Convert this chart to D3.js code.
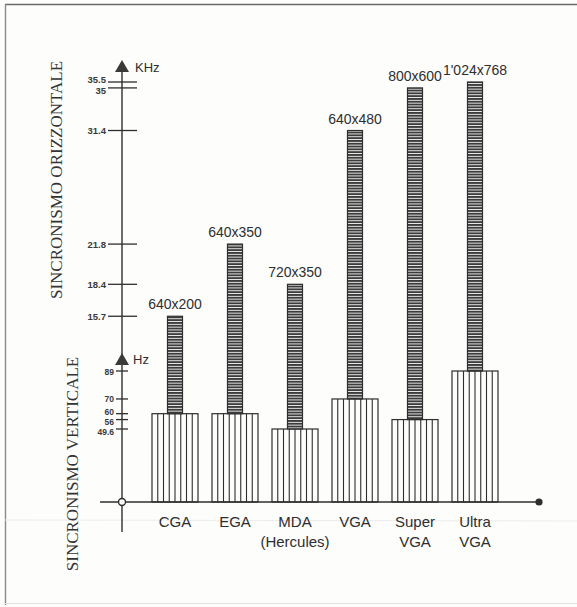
<!DOCTYPE html>
<html>
<head>
<meta charset="utf-8">
<script src="https://cdn.jsdelivr.net/npm/d3@7"></script>
<style>
  body { margin: 0; background: #fdfdfb; }
  svg { display: block; }
</style>
</head>
<body>
<div id="my_dataviz"></div>
<script>

var width = 577,
    height = 607

var categories = ["CGA", "EGA", "MDA", "VGA", "Super VGA", "Ultra VGA"]
var catLines = [["CGA"], ["EGA"], ["MDA", "(Hercules)"], ["VGA"], ["Super", "VGA"], ["Ultra", "VGA"]]
var resolutions = ["640x200", "640x350", "720x350", "640x480", "800x600", "1'024x768"]
var vertHz = [60, 60, 49.6, 70, 56, 89]
var horizKHz = [15.7, 21.8, 18.4, 31.4, 35, 35.5]
var khzTicks = [35.5, 35, 31.4, 21.8, 18.4, 15.7]
var hzTicks = [89, 70, 60, 56, 49.6]
var hzTickLabels = ["89", "70", "60", "56", "49.6"]

var ink = "#2e2e2e"
var axisX = 122, baseY = 502

var svg = d3.select("#my_dataviz")
  .append("svg")
    .attr("width", width)
    .attr("height", height)

svg.append("rect")
  .attr("width", width).attr("height", height)
  .attr("fill", "#fdfdfb")

// frame of the scanned page
svg.append("line").attr("x1", 5).attr("x2", 577).attr("y1", 4.5).attr("y2", 4.5)
  .attr("stroke", "#6a6a6a").attr("stroke-width", 1.6)
svg.append("line").attr("x1", 5.5).attr("x2", 5.5).attr("y1", 4).attr("y2", 605)
  .attr("stroke", "#8a8a8a").attr("stroke-width", 1.4)
svg.append("line").attr("x1", 5).attr("x2", 577).attr("y1", 603.5).attr("y2", 603.5)
  .attr("stroke", "#e2e2e2").attr("stroke-width", 1)
svg.append("line").attr("x1", 5).attr("x2", 577).attr("y1", 520).attr("y2", 521)
  .attr("stroke", "#ececec").attr("stroke-width", 1)

var x = d3.scalePoint()
  .domain(categories)
  .range([145, 505])
  .padding(0.5)

var yK = d3.scaleLinear()
  .domain([0, 35.5])
  .range([baseY, 82])

var yH = d3.scaleLinear()
  .domain([0, 89])
  .range([baseY, 371])

var wideW = 46, narrowW = 15

var data = categories.map(function(c, i) {
  return {cat: c, hz: vertHz[i], khz: horizKHz[i], res: resolutions[i], lines: catLines[i]}
})

// horizontal stripe pattern for the narrow (kHz) bars
var defs = svg.append("defs")
var pat = defs.append("pattern")
  .attr("id", "hstripe")
  .attr("patternUnits", "userSpaceOnUse")
  .attr("width", 20).attr("height", 2.8)
pat.append("rect").attr("width", 20).attr("height", 2.8).attr("fill", "#f4f4f4")
pat.append("rect").attr("width", 20).attr("height", 1.9).attr("fill", "#3c3c3c")

// wide bars: vertical sync
var wide = svg.selectAll("wideBars")
  .data(data)
  .enter()
  .append("g")
    .attr("transform", function(d) { return "translate(" + (x(d.cat) - wideW / 2) + ",0)" })

wide.append("rect")
  .attr("y", function(d) { return yH(d.hz) })
  .attr("width", wideW)
  .attr("height", function(d) { return baseY - yH(d.hz) })
  .attr("fill", "#fdfdfb")
  .attr("stroke", ink)
  .attr("stroke-width", 1.2)

wide.selectAll("line")
  .data(function(d) { return d3.range(1, 8).map(function(k) { return {k: k, d: d} }) })
  .enter()
  .append("line")
    .attr("x1", function(e) { return e.k * wideW / 8 })
    .attr("x2", function(e) { return e.k * wideW / 8 })
    .attr("y1", function(e) { return yH(e.d.hz) })
    .attr("y2", baseY)
    .attr("stroke", ink)
    .attr("stroke-width", 1.1)

// narrow bars: horizontal sync
svg.selectAll("narrowBars")
  .data(data)
  .enter()
  .append("rect")
    .attr("x", function(d) { return x(d.cat) - narrowW / 2 })
    .attr("y", function(d) { return yK(d.khz) })
    .attr("width", narrowW)
    .attr("height", function(d) { return yH(d.hz) - yK(d.khz) })
    .attr("fill", "url(#hstripe)")
    .attr("stroke", ink)
    .attr("stroke-width", 1.2)

// resolution labels
svg.selectAll("resLabels")
  .data(data)
  .enter()
  .append("text")
    .text(function(d) { return d.res })
    .attr("x", function(d) { return x(d.cat) })
    .attr("y", function(d) { return yK(d.khz) - 7 })
    .attr("text-anchor", "middle")
    .attr("font-family", "'Liberation Sans', Arial, sans-serif")
    .attr("font-size", 14)
    .attr("fill", ink)

// category labels
var catText = svg.selectAll("catLabels")
  .data(data)
  .enter()
  .append("text")
    .attr("x", function(d) { return x(d.cat) })
    .attr("y", 527)
    .attr("text-anchor", "middle")
    .attr("font-family", "'Liberation Sans', Arial, sans-serif")
    .attr("font-size", 15)
    .attr("fill", ink)

catText.selectAll("tspan")
  .data(function(d) { return d.lines })
  .enter()
  .append("tspan")
    .attr("x", function() { return x(d3.select(this.parentNode).datum().cat) })
    .attr("dy", function(t, i) { return i == 0 ? 0 : 20 })
    .text(function(t) { return t })

// axes
svg.append("line")
  .attr("x1", axisX).attr("x2", axisX)
  .attr("y1", 64).attr("y2", 532)
  .attr("stroke", ink).attr("stroke-width", 1.4)

svg.append("line")
  .attr("x1", 100).attr("x2", 539)
  .attr("y1", baseY).attr("y2", baseY)
  .attr("stroke", ink).attr("stroke-width", 1.4)

svg.append("circle")
  .attr("cx", axisX).attr("cy", baseY).attr("r", 3.5)
  .attr("fill", "#fdfdfb").attr("stroke", ink).attr("stroke-width", 1.4)

svg.append("circle")
  .attr("cx", 539).attr("cy", baseY).attr("r", 3.6)
  .attr("fill", ink)

function arrowHead(tipY) {
  svg.append("path")
    .attr("d", "M" + axisX + "," + tipY + "L" + (axisX + 7) + "," + (tipY + 12) + "L" + (axisX - 7) + "," + (tipY + 12) + "Z")
    .attr("fill", "#3a3a3a")
}
arrowHead(60)
arrowHead(353)

svg.append("text").text("KHz")
  .attr("x", 135).attr("y", 72)
  .attr("font-family", "'Liberation Sans', Arial, sans-serif")
  .attr("font-size", 13).attr("fill", ink)

svg.append("text").text("Hz")
  .attr("x", 133).attr("y", 364)
  .attr("font-family", "'Liberation Sans', Arial, sans-serif")
  .attr("font-size", 13).attr("fill", ink)

// kHz ticks
svg.selectAll("khzTicks")
  .data(khzTicks)
  .enter()
  .append("line")
    .attr("x1", 108).attr("x2", 137)
    .attr("y1", function(d) { return yK(d) }).attr("y2", function(d) { return yK(d) })
    .attr("stroke", ink).attr("stroke-width", 1.3)

svg.selectAll("khzLabels")
  .data(khzTicks)
  .enter()
  .append("text")
    .text(function(d) { return d })
    .attr("x", 106)
    .attr("y", function(d, i) { return yK(d) + (d == 35.5 ? 1 : d == 35 ? 6 : 3.5) })
    .attr("text-anchor", "end")
    .attr("font-family", "'Liberation Sans', Arial, sans-serif")
    .attr("font-size", 9.5)
    .attr("font-weight", "bold")
    .attr("fill", "#3a3a3a")

// Hz ticks
svg.selectAll("hzTicks")
  .data(hzTicks)
  .enter()
  .append("line")
    .attr("x1", 116).attr("x2", 128)
    .attr("y1", function(d) { return yH(d) }).attr("y2", function(d) { return yH(d) })
    .attr("stroke", ink).attr("stroke-width", 1.3)

svg.selectAll("hzLabels")
  .data(hzTicks)
  .enter()
  .append("text")
    .text(function(d, i) { return hzTickLabels[i] })
    .attr("x", 114)
    .attr("y", function(d) { return yH(d) + (d == 60 ? 1.5 : d == 56 ? 5.5 : d == 49.6 ? 6.5 : 3.5) })
    .attr("text-anchor", "end")
    .attr("font-family", "'Liberation Sans', Arial, sans-serif")
    .attr("font-size", 8.5)
    .attr("font-weight", "bold")
    .attr("fill", "#3a3a3a")

// rotated axis titles
svg.append("text").text("SINCRONISMO ORIZZONTALE")
  .attr("transform", "translate(62,180) rotate(-90)")
  .attr("text-anchor", "middle")
  .attr("font-family", "'Liberation Serif', 'Times New Roman', serif")
  .attr("font-size", 17)
  .attr("fill", "#333")

svg.append("text").text("SINCRONISMO VERTICALE")
  .attr("transform", "translate(78,464) rotate(-90)")
  .attr("text-anchor", "middle")
  .attr("font-family", "'Liberation Serif', 'Times New Roman', serif")
  .attr("font-size", 17)
  .attr("fill", "#333")

</script>
</body>
</html>
